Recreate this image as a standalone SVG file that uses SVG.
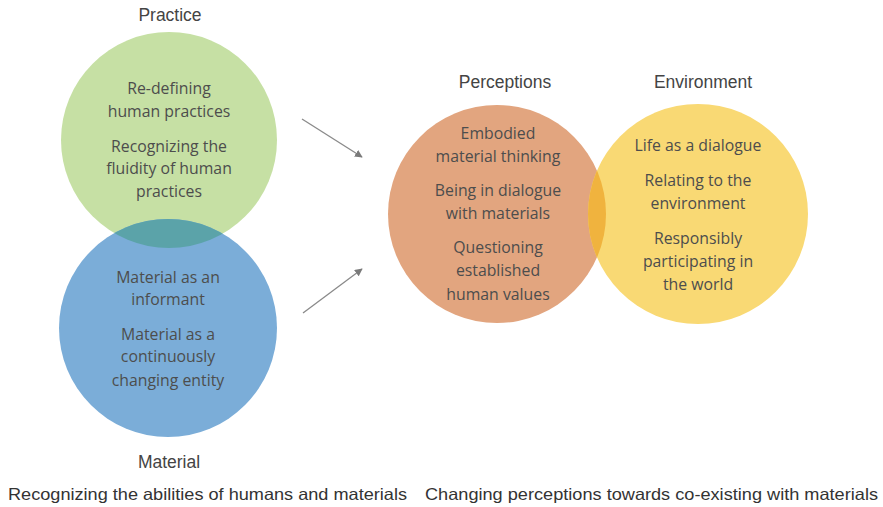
<svg xmlns="http://www.w3.org/2000/svg" width="883" height="507" viewBox="0 0 883 507">
  <style>
    .title { font-family: "Liberation Sans", Arial, sans-serif; font-size: 17.5px; fill: #444444; text-anchor: middle; }
    .body { font-family: "Open Sans", Lato, sans-serif; font-size: 15.8px; fill: #4d4d4d; text-anchor: middle; }
    .caption { font-family: "Liberation Sans", Arial, sans-serif; font-size: 16.5px; fill: #333333; }
    .arrow { stroke: #8a8a8a; stroke-width: 1.3; fill: none; marker-end: url(#head); }
  </style>
  <defs>
    <marker id="head" viewBox="0 0 10 10" refX="9" refY="5" markerWidth="6" markerHeight="6" markerUnits="strokeWidth" orient="auto">
      <path d="M0,0 L10,5 L0,10 z" fill="#7a7a7a"/>
    </marker>
    <clipPath id="clip-practice"><circle cx="169" cy="140" r="108"/></clipPath>
    <clipPath id="clip-perceptions"><circle cx="497" cy="214" r="109"/></clipPath>
  </defs>

  <rect width="883" height="507" fill="#ffffff"/>

  <!-- left pair: practice over material -->
  <g id="practice">
    <circle cx="169" cy="140" r="108" fill="#c6e0a4"/>
  </g>
  <g id="material">
    <circle cx="168" cy="328" r="109" fill="#7badd8"/>
    <circle cx="168" cy="328" r="109" fill="#5ba3a9" clip-path="url(#clip-practice)"/>
  </g>

  <!-- right pair: perceptions and environment -->
  <g id="perceptions">
    <circle cx="497" cy="214" r="109" fill="#e2a57f"/>
  </g>
  <g id="environment">
    <circle cx="698" cy="214" r="110" fill="#f9d974"/>
    <circle cx="698" cy="214" r="110" fill="#f0b33e" clip-path="url(#clip-perceptions)"/>
  </g>

  <!-- circle texts -->
  <g id="practice-text">
    <text class="title" x="170" y="21">Practice</text>
    <text class="body" x="169" y="94">Re-defining</text>
    <text class="body" x="169" y="117">human practices</text>
    <text class="body" x="169" y="152">Recognizing the</text>
    <text class="body" x="169" y="174">fluidity of human</text>
    <text class="body" x="169" y="197">practices</text>
  </g>
  <g id="material-text">
    <text class="body" x="168" y="283">Material as an</text>
    <text class="body" x="168" y="305">informant</text>
    <text class="body" x="168" y="340">Material as a</text>
    <text class="body" x="168" y="362">continuously</text>
    <text class="body" x="168" y="386">changing entity</text>
    <text class="title" x="169" y="468">Material</text>
  </g>
  <g id="perceptions-text">
    <text class="title" x="505" y="88">Perceptions</text>
    <text class="body" x="498" y="139">Embodied</text>
    <text class="body" x="498" y="162">material thinking</text>
    <text class="body" x="498" y="196">Being in dialogue</text>
    <text class="body" x="498" y="219">with materials</text>
    <text class="body" x="498" y="253">Questioning</text>
    <text class="body" x="498" y="276">established</text>
    <text class="body" x="498" y="300">human values</text>
  </g>
  <g id="environment-text">
    <text class="title" x="703" y="88">Environment</text>
    <text class="body" x="698" y="151">Life as a dialogue</text>
    <text class="body" x="698" y="186">Relating to the</text>
    <text class="body" x="698" y="209">environment</text>
    <text class="body" x="698" y="244">Responsibly</text>
    <text class="body" x="698" y="267">participating in</text>
    <text class="body" x="698" y="290">the world</text>
  </g>

  <!-- connectors -->
  <g id="connectors">
    <line class="arrow" x1="302" y1="119" x2="362" y2="157"/>
    <line class="arrow" x1="303" y1="313" x2="362" y2="269"/>
  </g>

  <!-- captions -->
  <g id="captions">
    <text class="caption" x="8" y="500" textLength="399" lengthAdjust="spacingAndGlyphs">Recognizing the abilities of humans and materials</text>
    <text class="caption" x="425" y="500" textLength="453" lengthAdjust="spacingAndGlyphs">Changing perceptions towards co-existing with materials</text>
  </g>
</svg>
